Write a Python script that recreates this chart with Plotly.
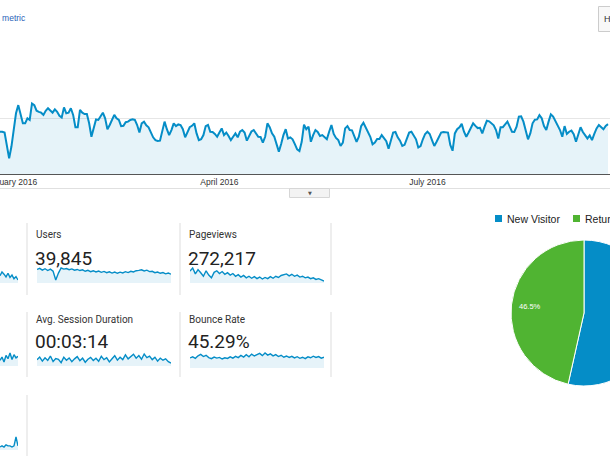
import math
import pandas as pd
import plotly.graph_objects as go

# ---------------- data ----------------
start_date = "2015-12-27"
sessions = [
    151, 151, 148, 100, 56, 98, 151, 217, 246, 217, 181, 181, 199, 193, 252, 246, 226, 222, 219, 211,
    226, 235, 226, 219, 231, 222, 208, 202, 238, 217, 219, 235, 211, 167, 167, 229, 219, 214, 214, 181,
    133, 167, 195, 193, 205, 219, 199, 160, 175, 193, 211, 199, 193, 171,
    172, 185, 187, 193, 195, 193, 175, 148, 181, 187, 174, 167, 151, 131, 121, 118, 119, 157, 187, 160,
    139, 157, 181, 171, 177, 175, 160, 131, 151, 167, 172, 181, 145, 121, 124, 139, 171, 175, 151, 150,
    143, 133, 148, 163, 139, 148, 136, 121, 133, 145, 131,
    151, 157, 148, 119, 136, 152, 157, 145, 133, 132, 112, 133, 181, 167, 145, 133, 104, 80, 107, 139,
    160, 127, 131, 124, 107, 88, 82, 115, 176, 160, 169, 115, 139, 157, 150, 136, 139, 131, 124, 151,
    175, 143, 129, 121, 100, 112, 163, 171, 157, 156, 133,
    115, 133, 171, 183, 167, 148, 133, 106, 112, 125, 125, 139, 129, 117, 90, 124, 148, 150, 131, 119,
    100, 104, 127, 148, 151, 137, 124, 95, 100, 124, 143, 151, 143, 121, 100, 115, 133, 148, 150, 149,
    148, 104, 83, 145, 160, 167, 179, 151, 133, 148, 163, 181,
    172, 164, 165, 145, 169, 190, 188, 181, 174, 157, 127, 167, 167, 177, 187, 169, 151, 150, 169, 205,
    206, 187, 151, 124, 145, 181, 194, 195, 210, 199, 171, 157, 187, 213, 205, 188, 171, 157, 133, 171,
    143, 151, 155, 142, 115, 143, 167, 150, 138, 127, 138, 121, 143, 163,
    175, 168, 160, 172, 178,
]
month_ticks = ["2016-01-01", "2016-04-01", "2016-07-01"]
month_labels = ["January 2016", "April 2016", "July 2016"]
y_ticks = [0, 200, 400]

card_titles = ["Users", "Pageviews", "Avg. Session Duration", "Bounce Rate"]
card_values = ["39,845", "272,217", "00:03:14", "45.29%"]

users_spark = [170, 176, 166, 174, 164, 172, 160, 112, 150, 178, 172, 175, 169, 173, 166, 170, 164, 168,
               160, 165, 158, 163, 156, 161, 154, 159, 152, 157, 150, 156, 149, 155, 151, 158, 153, 160,
               156, 163, 165, 168, 162, 166, 158, 160, 152, 156, 149, 153, 146, 150, 144]
pageviews_spark = [1250, 1330, 1180, 1290, 1210, 1120, 1260, 1150, 1080, 1220, 1260, 1190, 1240, 1170,
                   1210, 1150, 1190, 1120, 1160, 1100, 1140, 1080, 1120, 1070, 1110, 1060, 1100, 1050,
                   1090, 1060, 1110, 1070, 1120, 1090, 1140, 1160, 1180, 1130, 1170, 1120, 1150, 1100,
                   1120, 1080, 1100, 1060, 1080, 1040, 1060, 1030, 1000]
duration_spark = [185, 200, 178, 196, 182, 205, 176, 192, 188, 170, 199, 183, 195, 175, 190, 202, 180,
                  194, 172, 188, 198, 181, 193, 177, 204, 186, 196, 174, 191, 207, 183, 199, 186, 211,
                  190, 203, 215, 194, 208, 188, 216, 197, 205, 186, 199, 178, 194, 183, 190, 175, 168]
bounce_spark = [45.0, 45.6, 44.8, 46.2, 47.0, 45.8, 46.5, 45.2, 44.6, 45.5, 44.9, 45.3, 44.4, 45.1, 44.7,
                45.6, 44.9, 45.9, 45.2, 46.4, 45.5, 46.8, 45.7, 47.2, 46.1, 46.9, 47.6, 46.3, 47.8, 46.6,
                47.3, 46.2, 46.9, 45.8, 46.5, 45.4, 46.1, 45.3, 45.9, 45.0, 45.7, 44.8, 45.4, 44.6, 45.6,
                45.1, 46.0, 45.3, 45.8, 44.9, 45.4]
sessions_tail = [250, 262, 255, 246, 258, 244, 252, 240, 247, 236]
pages_tail = [6.8, 7.2, 6.6, 7.4, 7.0, 7.7, 6.9, 7.5, 7.1, 7.3]
newsess_tail = [52, 53, 52, 54, 53, 53, 52, 53, 61, 53]

visitor_types = ["New Visitor", "Returning Visitor"]
visitor_share = [53.5, 46.5]

# ---------------- styling ----------------
W, H = 680, 456
BLUE = "#058dc7"
GREEN = "#50b432"
FILL = "rgba(5,141,199,0.1)"
GRID = "#e6e6e6"
TXT = "#333333"
PX_PER_DAY = 208 / 91


def fx(p):
    return p / W


def fy(p):
    return 1 - p / H


def label(x, y, text, size, color, family="Liberation Sans, Arial", xanchor="left"):
    return dict(x=fx(x), y=fy(y), xref="paper", yref="paper", showarrow=False,
                xanchor=xanchor, yanchor="middle", text=text,
                font=dict(family=family, size=size, color=color))


fig = go.Figure()

# main area chart
dates = pd.date_range(start_date, periods=len(sessions), freq="D")
fig.add_trace(go.Scatter(x=dates, y=sessions, mode="lines", line=dict(color=BLUE, width=2),
                         fill="tozeroy", fillcolor=FILL, hoverinfo="skip", showlegend=False,
                         xaxis="x", yaxis="y"))
x_end = pd.Timestamp(start_date) + pd.Timedelta(days=W / PX_PER_DAY)

layout = dict(
    width=W, height=H, margin=dict(l=0, r=0, t=0, b=0, autoexpand=False),
    paper_bgcolor="white", plot_bgcolor="white", showlegend=False,
    xaxis=dict(domain=[0, 1], anchor="y", type="date", automargin=False,
               range=[pd.Timestamp(start_date).strftime("%Y-%m-%d"), x_end.strftime("%Y-%m-%d %H:%M")],
               tickvals=month_ticks, ticktext=month_labels, ticks="", showgrid=False,
               ticklabeloverflow="allow",
               showline=True, linecolor="#555555", linewidth=1,
               tickfont=dict(family="Liberation Sans, Arial", size=8.5, color=TXT)),
    yaxis=dict(domain=[fy(174), fy(62)], anchor="x", range=[0, 400], tickvals=y_ticks,
               automargin=False,
               showticklabels=False, showgrid=True, gridcolor=GRID, gridwidth=1, zeroline=False),
)

# sparklines: (data, x0, x1, dom_top, dom_bottom, line_top, line_bottom)
sparks = [
    (users_spark, 37, 171, 266, 283, 268, 280),
    (pageviews_spark, 190, 324, 266, 283, 268, 281),
    (duration_spark, 37, 171, 352, 366, 354, 363),
    (bounce_spark, 190, 324, 352, 368, 353, 359),
    (sessions_tail, 0, 18, 268, 283, 272, 280),
    (pages_tail, 0, 18, 352, 366, 353, 362),
    (newsess_tail, 0, 18, 434, 450, 437, 447),
]
for i, (vals, x0, x1, dt, db, lt, lb) in enumerate(sparks, start=2):
    vmin, vmax = min(vals), max(vals)
    scale = (vmax - vmin) / (lb - lt)
    hi = vmax + (lt - dt) * scale
    lo = vmin - (db - lb) * scale
    fig.add_trace(go.Scatter(x=list(range(len(vals))), y=vals, mode="lines",
                             line=dict(color=BLUE, width=1.4), fill="tozeroy", fillcolor=FILL,
                             hoverinfo="skip", showlegend=False,
                             xaxis=f"x{i}", yaxis=f"y{i}"))
    layout[f"xaxis{i}"] = dict(domain=[fx(x0), fx(x1)], anchor=f"y{i}", visible=False,
                               automargin=False, range=[0, len(vals) - 1])
    layout[f"yaxis{i}"] = dict(domain=[fy(db), fy(dt)], anchor=f"x{i}", visible=False,
                               automargin=False, range=[lo, hi])

# pie
cx, cy, r = 584, 313, 73
fig.add_trace(go.Pie(labels=visitor_types, values=visitor_share, sort=False, direction="clockwise",
                     rotation=0, textinfo="none", hoverinfo="skip", showlegend=False,
                     marker=dict(colors=[BLUE, GREEN], line=dict(color="white", width=1)),
                     domain=dict(x=[fx(cx - r), fx(cx + r)], y=[fy(cy + r), fy(cy - r)])))

annotations = []
shapes = []

# pie percentage label of the visible (returning) slice
total = sum(visitor_share)
acc = sum(visitor_share[:1])
v = visitor_share[1]
mid = (acc + v / 2) / total * 2 * math.pi
px = cx + 0.75 * r * math.sin(mid)
py = cy - 0.75 * r * math.cos(mid)
annotations.append(label(px, py, f"{v / total * 100:.1f}%", 7.5, "white", xanchor="center"))

# pie legend
for (lx, color, name) in [(495, BLUE, visitor_types[0]), (573, GREEN, visitor_types[1])]:
    shapes.append(dict(type="rect", xref="paper", yref="paper", x0=fx(lx), x1=fx(lx + 7),
                       y0=fy(222), y1=fy(215), fillcolor=color, line=dict(width=0)))
    annotations.append(label(lx + 10, 218.5, name, 10.5, "#222222"))

# scorecards
card_pos = [(35, 234, 257), (188, 234, 257), (35, 319, 340), (188, 319, 340)]
for (x, ty, vy), title, val in zip(card_pos, card_titles, card_values):
    annotations.append(label(x - 1, ty, title, 10, TXT, family="Roboto"))
    annotations.append(label(x - 2, vy + 1, val, 19, "#222222", family="Roboto"))

# dividers between scorecards
for (y0, y1) in [(223, 295), (312, 377), (395, 456)]:
    for xd in [27, 180, 331]:
        if y0 == 395 and xd != 27:
            continue
        shapes.append(dict(type="line", xref="paper", yref="paper", x0=fx(xd), x1=fx(xd),
                           y0=fy(y0), y1=fy(y1), line=dict(color="#dddddd", width=1)))

# separator below chart and collapse button
shapes.append(dict(type="line", xref="paper", yref="paper", x0=0, x1=1, y0=fy(188.5), y1=fy(188.5),
                   line=dict(color="#e0e0e0", width=1)))
shapes.append(dict(type="rect", xref="paper", yref="paper", x0=fx(289.5), x1=fx(329.5),
                   y0=fy(197.5), y1=fy(188.5), fillcolor="#f3f3f3", line=dict(color="#d6d6d6", width=1)))
annotations.append(label(310, 192.5, "▼", 5, "#555555", family="DejaVu Sans", xanchor="center"))

# top texts / controls
annotations.append(label(28, 18, "Select a metric", 8.5, "#2a62b8", xanchor="right"))
shapes.append(dict(type="rect", xref="paper", yref="paper", x0=fx(598.5), x1=fx(660),
                   y0=fy(31.5), y1=fy(6.5), fillcolor="#f8f8f8", line=dict(color="#cccccc", width=1)))
annotations.append(label(602, 18.5, "Hourly", 9, TXT))

layout["annotations"] = annotations
layout["shapes"] = shapes
fig.update_layout(**layout)

fig.write_html("out.html",
               post_script="document.documentElement.style.overflow='hidden';"
                           "document.body.style.overflow='hidden';document.body.style.margin='0';")
